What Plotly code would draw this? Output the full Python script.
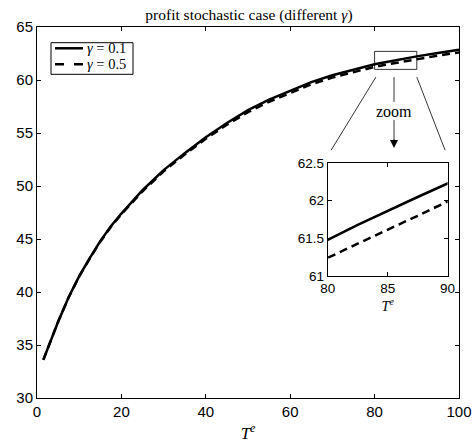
import plotly.graph_objects as go

# Data
t_e = [1.5, 3, 5, 7.5, 10, 12.5, 15, 17.5, 20, 25, 30, 35, 40, 45, 50, 55, 60, 65, 70, 75,
       80, 82.5, 85, 87.5, 90, 95, 100]
profit_g01 = [33.6, 35.2, 37.2, 39.5, 41.5, 43.2, 44.8, 46.2, 47.4, 49.6, 51.5, 53.1, 54.6,
              55.95, 57.15, 58.15, 59.0, 59.8, 60.45, 61.0, 61.48, 61.68, 61.87, 62.05, 62.23,
              62.55, 62.85]
profit_g05 = [33.6, 35.2, 37.2, 39.48, 41.47, 43.16, 44.75, 46.14, 47.33, 49.5, 51.38, 52.96,
              54.45, 55.78, 56.96, 57.95, 58.8, 59.59, 60.23, 60.77, 61.24, 61.43, 61.61, 61.8,
              61.99, 62.3, 62.6]
labels = ["<i>γ</i> = 0.1", "<i>γ</i> = 0.5"]
main_xticks = [0, 20, 40, 60, 80, 100]
main_yticks = [30, 35, 40, 45, 50, 55, 60, 65]
zoom_x = [80, 90]
zoom_y = [61, 62.5]
zoom_box_y = [61, 62.7]
inset_xticks = [80, 85, 90]
inset_yticks = [61, 61.5, 62, 62.5]
inset_yticklabels = ["61", "61.5", "62", "62.5"]

serif = "Liberation Serif"
sans = "Liberation Sans"
dashes = ["solid", "8px,5px"]

fig = go.Figure()
for ys, name, dash in zip([profit_g01, profit_g05], labels, dashes):
    fig.add_trace(go.Scatter(x=t_e, y=ys, mode="lines", name=name, showlegend=False,
                             line=dict(color="black", width=2.5, dash=dash),
                             xaxis="x", yaxis="y"))
for ys, dash in zip([profit_g01, profit_g05], dashes):
    fig.add_trace(go.Scatter(x=t_e, y=ys, mode="lines", showlegend=False,
                             line=dict(color="black", width=2.5, dash=dash),
                             xaxis="x2", yaxis="y2"))

axis_common = dict(showgrid=False, zeroline=False, showline=True, linecolor="black",
                   linewidth=1, mirror="ticks", ticks="inside", ticklen=4,
                   tickcolor="black", tickwidth=1, automargin=False)

fig.update_layout(
    width=476, height=445,
    margin=dict(l=37, r=17, t=27, b=47, autoexpand=False),
    paper_bgcolor="white", plot_bgcolor="white",
    title=dict(text="profit stochastic case (different <i>γ</i>)", x=0.523, xanchor="center",
               y=0.968, yanchor="middle", font=dict(family=serif, size=15.5, color="black")),
    xaxis=dict(range=[0, 100], tickvals=main_xticks, domain=[0, 1],
               tickfont=dict(family=sans, size=15, color="black"),
               title=dict(text="<i>T<sup>e</sup></i>", standoff=8,
                          font=dict(family=serif, size=17, color="black")),
               **axis_common),
    yaxis=dict(range=[30, 65], tickvals=main_yticks, domain=[0, 1],
               tickfont=dict(family=sans, size=15, color="black"), **axis_common),
    xaxis2=dict(range=zoom_x, tickvals=inset_xticks, domain=[0.689, 0.973], anchor="y2",
                tickfont=dict(family=sans, size=13.5, color="black"),
                title=dict(text="<i>T<sup>e</sup></i>", standoff=4,
                           font=dict(family=serif, size=14, color="black")),
                **axis_common),
    yaxis2=dict(range=zoom_y, tickvals=inset_yticks, ticktext=inset_yticklabels,
                domain=[0.329, 0.633], anchor="x2",
                tickfont=dict(family=sans, size=13.5, color="black"), **axis_common),
    showlegend=False,
)

thin = dict(color="black", width=0.8)
# zoom rectangle in main data coordinates
fig.add_shape(type="rect", xref="x", yref="y", x0=zoom_x[0], x1=zoom_x[1],
              y0=zoom_box_y[0], y1=zoom_box_y[1], line=thin)
# connector lines (paper coordinates)
fig.add_shape(type="line", xref="paper", yref="paper", x0=0.803, y0=0.865, x1=0.697, y1=0.668, line=thin)
fig.add_shape(type="line", xref="paper", yref="paper", x0=0.900, y0=0.865, x1=0.967, y1=0.668, line=thin)
fig.add_shape(type="line", xref="paper", yref="paper", x0=0.846, y0=0.865, x1=0.846, y1=0.798, line=thin)
fig.add_shape(type="line", xref="paper", yref="paper", x0=0.846, y0=0.749, x1=0.846, y1=0.690, line=thin)
fig.add_annotation(xref="paper", yref="paper", x=0.846, y=0.772, text="zoom", showarrow=False,
                   xanchor="center", yanchor="middle",
                   font=dict(family=serif, size=16, color="black"))
fig.add_annotation(xref="paper", yref="paper", x=0.846, y=0.674, text="", showarrow=True,
                   ax=0, ay=-10, axref="pixel", ayref="pixel", standoff=0,
                   arrowhead=2, arrowsize=1.6, arrowwidth=1, arrowcolor="black")

# compact legend box (MATLAB style)
fig.add_shape(type="rect", xref="paper", yref="paper", x0=0.0332, x1=0.2275,
              y0=0.8725, y1=0.9577, line=dict(color="black", width=1),
              fillcolor="white", layer="above")
legend_rows_y = [0.9426, 0.8995]
legend_dashes = ["solid", "9px,10px"]
for lab, ly, dash in zip(labels, legend_rows_y, legend_dashes):
    fig.add_shape(type="line", xref="paper", yref="paper", x0=0.0427, x1=0.109,
                  y0=ly, y1=ly, line=dict(color="black", width=2.5, dash=dash), layer="above")
    fig.add_annotation(xref="paper", yref="paper", x=0.114, y=ly, text=lab, showarrow=False,
                       xanchor="left", yanchor="middle",
                       font=dict(family=serif, size=14.5, color="black"))

fig.write_html("out.html")
